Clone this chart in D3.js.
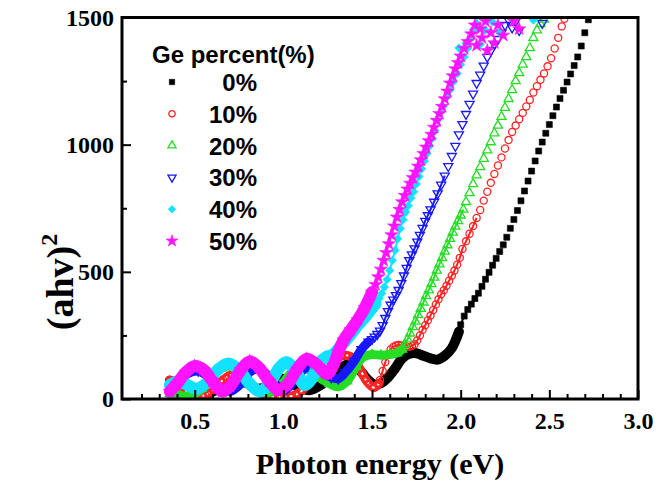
<!DOCTYPE html>
<html>
<head>
<meta charset="utf-8">
<script src="https://cdn.jsdelivr.net/npm/d3@7"></script>
<style>
  body { margin: 0; background: #fff; }
  svg text { fill: #000; }
</style>
</head>
<body>
<svg id="chart" width="664" height="483"></svg>
<script>
// Ge content of each sample
const seriesNames = ['0%', '10%', '20%', '30%', '40%', '50%'];
const seriesColors = ['#000000', '#ff2424', '#25dd25', '#1818ff', '#12e2ff', '#ff14ff'];

const xTicks = [0.5, 1.0, 1.5, 2.0, 2.5, 3.0];
const xMinorTicks = [0.2, 0.3, 0.4, 0.6, 0.7, 0.8, 0.9, 1.1, 1.2, 1.3, 1.4, 1.6, 1.7, 1.8, 1.9,
                     2.1, 2.2, 2.3, 2.4, 2.6, 2.7, 2.8, 2.9];
const yTicks = [0, 500, 1000, 1500];
const yMinorTicks = [250, 750, 1250];

// [photon energy (eV), (ahv)^2] -- dense low-energy part (fringes)
const ge0Band = [[0.36,72],[0.40,60],[0.45,40],[0.50,25],[0.56,20],[0.62,35],[0.68,60],[0.74,75],[0.80,60],
  [0.86,40],[0.92,55],[0.98,80],[1.03,70],[1.09,45],[1.15,35],[1.21,55],[1.27,90],[1.33,125],[1.38,140],
  [1.43,115],[1.47,80],[1.51,58],[1.55,62],[1.59,85],[1.63,120],[1.67,160],[1.71,178],[1.75,180],[1.79,170],
  [1.83,160],[1.87,155],[1.91,170],[1.95,200],[1.99,265]];
// absorption edge, separate markers
const ge0Edge = [[2.00,292],[2.02,326],[2.04,352],[2.06,373],[2.08,395],[2.10,416],[2.12,443],[2.14,471],
  [2.16,498],[2.18,526],[2.20,553],[2.22,580],[2.24,606],[2.26,636],[2.28,671],[2.30,706],[2.32,741],
  [2.34,779],[2.36,818],[2.38,857],[2.40,896],[2.42,936],[2.44,975],[2.46,1010],[2.48,1045],[2.50,1079],
  [2.52,1114],[2.54,1148],[2.56,1182],[2.58,1214],[2.60,1246],[2.62,1278],[2.64,1311],[2.66,1345],
  [2.68,1388],[2.70,1440],[2.72,1491]];

const ge10Band = [[0.36,75],[0.41,55],[0.46,28],[0.51,12],[0.56,15],[0.61,40],[0.66,75],[0.71,95],[0.76,85],
  [0.81,55],[0.87,25],[0.93,10],[0.99,8],[1.05,12],[1.10,30],[1.15,70],[1.20,110],[1.25,140],[1.30,160],
  [1.35,172],[1.39,162],[1.43,120],[1.47,70],[1.51,45],[1.54,62]];
const ge10Edge = [[1.545,75],[1.56,110],[1.575,145],[1.59,175],[1.605,195],[1.62,205],[1.635,210],[1.65,212],
  [1.665,210],[1.68,207],[1.695,205],[1.71,205],[1.725,208],[1.74,215],[1.755,230],[1.77,250],[1.785,272],
  [1.80,290],[1.815,310],[1.83,328],[1.845,350],[1.86,372],[1.875,392],[1.89,412],[1.905,428],[1.92,445],
  [1.935,465],[1.95,485],[1.965,505],[1.98,528],[1.995,555],[2.01,590],[2.03,620],[2.05,650],[2.07,680],
  [2.09,712],[2.11,743],[2.13,780],[2.15,815],[2.17,850],[2.19,885],[2.21,918],[2.23,950],[2.25,985],
  [2.27,1018],[2.29,1050],[2.31,1075],[2.33,1100],[2.35,1125],[2.37,1150],[2.39,1176],[2.41,1205],
  [2.43,1230],[2.45,1255],[2.47,1280],[2.49,1308],[2.51,1340],[2.53,1378],[2.55,1420],[2.57,1465],[2.585,1495]];

const ge20Band = [[0.36,20],[0.42,12],[0.48,15],[0.54,40],[0.60,90],[0.65,120],[0.69,130],[0.74,115],[0.80,75],
  [0.86,35],[0.92,25],[0.98,50],[1.04,100],[1.09,125],[1.14,115],[1.20,85],[1.26,60],[1.31,48],[1.36,70],
  [1.41,128],[1.45,165],[1.50,175],[1.55,172],[1.60,175],[1.64,180],[1.67,195]];
const ge20Edge = [[1.685,215],[1.70,235],[1.715,258],[1.73,283],[1.745,305],[1.76,330],[1.775,355],[1.79,380],
  [1.805,405],[1.82,428],[1.835,452],[1.85,478],[1.865,505],[1.88,530],[1.895,555],[1.91,580],[1.925,605],
  [1.94,630],[1.955,655],[1.97,678],[1.985,700],[2.00,722],[2.015,745],[2.03,775],[2.05,810],[2.07,845],
  [2.09,880],[2.11,912],[2.13,945],[2.15,978],[2.17,1010],[2.19,1045],[2.21,1075],[2.23,1110],[2.25,1145],
  [2.27,1180],[2.29,1215],[2.31,1250],[2.33,1282],[2.35,1315],[2.37,1345],[2.39,1380],[2.41,1420],
  [2.43,1450],[2.45,1475],[2.47,1492]];

const ge30Band = [[0.36,45],[0.41,75],[0.46,100],[0.52,110],[0.58,85],[0.64,45],[0.70,30],[0.76,60],[0.81,105],
  [0.86,120],[0.91,95],[0.97,50],[1.02,40],[1.07,80],[1.12,120],[1.17,125],[1.22,105],[1.27,85],[1.31,80],
  [1.35,105],[1.40,150],[1.44,195],[1.48,225]];
const ge30Edge = [[1.50,235],[1.515,245],[1.53,255],[1.545,268],[1.56,290],[1.575,318],[1.59,345],[1.605,370],
  [1.62,390],[1.635,408],[1.65,428],[1.665,455],[1.68,485],[1.695,515],[1.71,545],[1.725,568],[1.74,592],
  [1.755,618],[1.77,645],[1.785,672],[1.80,700],[1.815,722],[1.83,745],[1.85,775],[1.87,808],[1.89,842],
  [1.91,878],[1.93,915],[1.95,955],[1.97,995],[1.99,1040],[2.01,1080],[2.03,1120],[2.05,1160],[2.07,1200],
  [2.09,1242],[2.11,1275],[2.13,1310],[2.15,1345],[2.17,1370],[2.19,1395],[2.21,1415],[2.23,1440],
  [2.25,1470],[2.27,1490],[2.29,1460],[2.31,1485],[2.33,1450],[2.46,1478]];

const ge40Band = [[0.36,55],[0.41,70],[0.46,55],[0.51,40],[0.57,65],[0.63,115],[0.69,140],[0.75,115],[0.81,60],
  [0.87,30],[0.93,70],[0.98,125],[1.02,145],[1.07,110],[1.12,55],[1.16,80],[1.20,140],[1.24,165],[1.28,175],
  [1.32,205],[1.37,245],[1.42,290],[1.47,330],[1.52,375]];
const ge40Edge = [[1.54,395],[1.555,415],[1.57,440],[1.585,470],[1.60,505],[1.615,545],[1.63,585],[1.645,630],
  [1.66,670],[1.675,705],[1.69,735],[1.705,760],[1.72,790],[1.735,815],[1.75,845],[1.765,875],[1.78,905],
  [1.795,935],[1.81,965],[1.825,995],[1.84,1025],[1.855,1055],[1.87,1097],[1.885,1125],[1.90,1150],
  [1.92,1185],[1.94,1215],[1.96,1248],[1.98,1280],[2.00,1315],[2.02,1345],[2.04,1380],[2.06,1420],
  [2.07,1451],[1.99,1380],[2.03,1400],[2.09,1478],[2.11,1395],[2.14,1450],[2.18,1482],[2.22,1440],[2.41,1490]];

const ge50Band = [[0.36,30],[0.40,60],[0.45,105],[0.50,130],[0.55,115],[0.60,70],[0.655,30],[0.70,50],[0.76,115],
  [0.81,148],[0.86,125],[0.92,70],[0.97,35],[1.02,55],[1.08,120],[1.13,158],[1.18,140],[1.25,98],[1.28,130],
  [1.31,185],[1.34,232],[1.38,272],[1.42,312],[1.46,360],[1.50,420]];
const ge50Edge = [[1.52,450],[1.535,480],[1.55,510],[1.565,545],[1.58,575],[1.595,610],[1.61,645],[1.625,680],
  [1.64,715],[1.655,745],[1.67,775],[1.685,800],[1.70,825],[1.715,848],[1.73,870],[1.745,892],[1.76,915],
  [1.775,940],[1.79,965],[1.805,990],[1.82,1015],[1.835,1040],[1.85,1068],[1.865,1095],[1.88,1122],
  [1.895,1150],[1.91,1180],[1.925,1210],[1.94,1242],[1.955,1270],[1.97,1298],[1.985,1322],[2.00,1348],
  [2.02,1378],[2.04,1405],[2.06,1435],[2.08,1470],[2.09,1390],[2.11,1455],[2.12,1420],[2.14,1485],
  [2.15,1370],[2.17,1440],[2.19,1400],[2.21,1470],[2.24,1430],[2.30,1485],[2.33,1455]];

const bands = [ge0Band, ge10Band, ge20Band, ge30Band, ge40Band, ge50Band];
const edges = [ge0Edge, ge10Edge, ge20Edge, ge30Edge, ge40Edge, ge50Edge];
// energy up to which the edge markers overlap into a chain
const chainLimits = [2.2, 2.1, 2.02, 1.92, 1.86, 1.86];

const width = 664, height = 483;
const margin = { left: 122, right: 26, top: 17.5, bottom: 84 };

const svg = d3.select('#chart');

const x = d3.scaleLinear().domain([0.09, 3.0]).range([margin.left, width - margin.right]);
const y = d3.scaleLinear().domain([0, 1500]).range([height - margin.bottom, margin.top]);

// symbols, one per series
const symbolSpecs = [
  { type: d3.symbolSquare, size: 36, fill: true, rot: 0 },
  { type: d3.symbolCircle, size: 40, fill: false, rot: 0 },
  { type: d3.symbolTriangle, size: 36, fill: false, rot: 0 },
  { type: d3.symbolTriangle, size: 36, fill: false, rot: 180 },
  { type: d3.symbolSquare, size: 36, fill: true, rot: 45 },
  { type: d3.symbolStar, size: 55, fill: true, rot: 0 }
];
const bandWidths = [10, 9, 9, 9, 12, 12];

svg.append('defs').append('clipPath').attr('id', 'plotClip')
  .append('rect')
  .attr('x', margin.left).attr('y', margin.top)
  .attr('width', x.range()[1] - margin.left)
  .attr('height', y.range()[0] - margin.top);

const plot = svg.append('g').attr('clip-path', 'url(#plotClip)');

const line = d3.line()
  .x(d => x(d[0]))
  .y(d => y(d[1]))
  .curve(d3.curveCatmullRom.alpha(0.5));

function drawMarkers(g, data, i) {
  const s = symbolSpecs[i];
  const sym = d3.symbol().type(s.type).size(s.size);
  g.append('g')
    .selectAll('path')
    .data(data)
    .enter()
    .append('path')
    .attr('d', sym)
    .attr('transform', d => `translate(${x(d[0])},${y(d[1])}) rotate(${s.rot})`)
    .attr('fill', s.fill ? seriesColors[i] : 'none')
    .attr('stroke', seriesColors[i])
    .attr('stroke-width', s.fill ? 0.6 : 1.3);
}

seriesNames.forEach((name, i) => {
  const g = plot.append('g');
  g.append('path')
    .datum(bands[i])
    .attr('d', line)
    .attr('fill', 'none')
    .attr('stroke', seriesColors[i])
    .attr('stroke-width', bandWidths[i])
    .attr('stroke-linecap', 'round')
    .attr('stroke-linejoin', 'round');
  if (i === 1) {
    // hollow circles leave a light core in the dense band
    g.append('path')
      .datum(bands[i])
      .attr('d', line)
      .attr('fill', 'none')
      .attr('stroke', '#fff')
      .attr('stroke-width', 2)
      .attr('stroke-dasharray', '3 3');
  }
  // overlapping markers just above the fringes
  const chain = [bands[i][bands[i].length - 1]].concat(edges[i].filter(d => d[0] <= chainLimits[i]));
  g.append('path')
    .datum(chain)
    .attr('d', line)
    .attr('fill', 'none')
    .attr('stroke', seriesColors[i])
    .attr('stroke-width', 2);
  drawMarkers(g, bands[i], i);
  drawMarkers(g, edges[i], i);
});

// axes
const axisG = svg.append('g');
axisG.append('g')
  .attr('transform', `translate(0,${y(0)})`)
  .call(d3.axisBottom(x).tickValues(xTicks).tickSize(-9).tickSizeOuter(0).tickPadding(13)
    .tickFormat(d3.format('.1f')));
axisG.append('g')
  .attr('transform', `translate(0,${y(0)})`)
  .call(d3.axisBottom(x).tickValues(xMinorTicks).tickSize(-5).tickSizeOuter(0).tickFormat(''));
axisG.append('g')
  .attr('transform', `translate(${x.range()[0]},0)`)
  .call(d3.axisLeft(y).tickValues(yTicks).tickSize(-9).tickSizeOuter(0).tickPadding(8)
    .tickFormat(d3.format('d')));
axisG.append('g')
  .attr('transform', `translate(${x.range()[0]},0)`)
  .call(d3.axisLeft(y).tickValues(yMinorTicks).tickSize(-5).tickSizeOuter(0).tickFormat(''));

axisG.selectAll('.domain').remove();
axisG.selectAll('.tick line').attr('stroke', '#000').attr('stroke-width', 2);
axisG.selectAll('.tick text')
  .attr('font-family', '"Liberation Serif", "Times New Roman", serif')
  .attr('font-weight', 'bold')
  .attr('font-size', 24);

// frame
svg.append('rect')
  .attr('x', x.range()[0]).attr('y', y.range()[1])
  .attr('width', x.range()[1] - x.range()[0])
  .attr('height', y.range()[0] - y.range()[1])
  .attr('fill', 'none')
  .attr('stroke', '#000')
  .attr('stroke-width', 3);

// axis titles
svg.append('text')
  .attr('x', (x.range()[0] + x.range()[1]) / 2)
  .attr('y', 474)
  .attr('text-anchor', 'middle')
  .attr('font-family', '"Liberation Serif", "Times New Roman", serif')
  .attr('font-weight', 'bold')
  .attr('font-size', 30)
  .text('Photon energy (eV)');

const yTitle = svg.append('text')
  .attr('transform', 'translate(73,282) rotate(-90)')
  .attr('text-anchor', 'middle')
  .attr('font-family', '"Liberation Serif", "Times New Roman", serif')
  .attr('font-weight', 'bold')
  .attr('font-size', 38);
yTitle.append('tspan').text('(ahv)');
yTitle.append('tspan').attr('font-size', 24).attr('dy', -16).text('2');

// legend
const legend = svg.append('g');
legend.append('text')
  .attr('x', 152).attr('y', 63)
  .attr('font-family', '"Liberation Sans", Arial, sans-serif')
  .attr('font-weight', 'bold')
  .attr('font-size', 24)
  .text('Ge percent(%)');

const legendY = d3.scalePoint().domain(seriesNames).range([82, 241]);
seriesNames.forEach((name, i) => {
  const s = symbolSpecs[i];
  legend.append('path')
    .attr('d', d3.symbol().type(s.type).size(s.size * 0.8)())
    .attr('transform', `translate(172,${legendY(name)}) rotate(${s.rot})`)
    .attr('fill', s.fill ? seriesColors[i] : 'none')
    .attr('stroke', seriesColors[i])
    .attr('stroke-width', s.fill ? 0.6 : 1.3);
  legend.append('text')
    .attr('x', 257).attr('y', legendY(name) + 9)
    .attr('text-anchor', 'end')
    .attr('font-family', '"Liberation Sans", Arial, sans-serif')
    .attr('font-weight', 'bold')
    .attr('font-size', 24)
    .text(name);
});
</script>
</body>
</html>
